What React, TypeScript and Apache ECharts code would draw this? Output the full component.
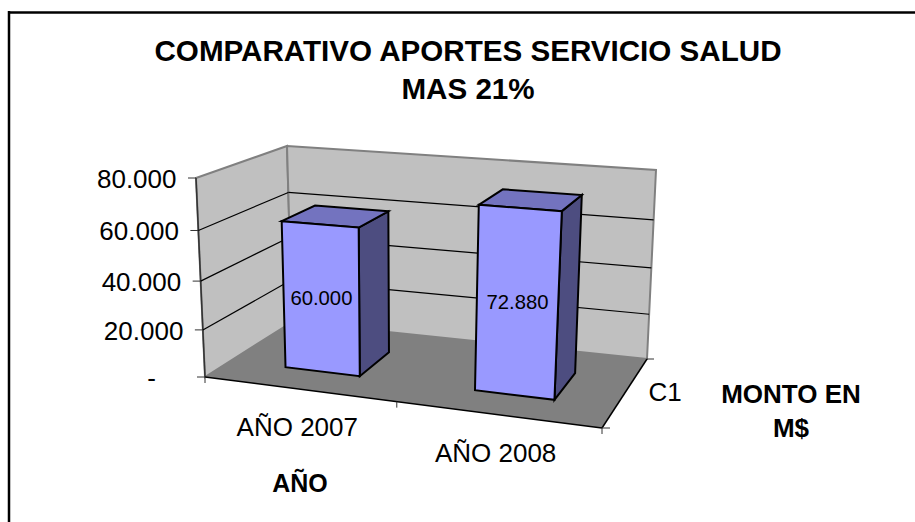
import React, { useEffect, useRef } from "react";
import * as echarts from "echarts";

const categories = ["AÑO 2007", "AÑO 2008"];
const values = [60000, 72880];
const valueLabels = ["60.000", "72.880"];
const yTicks = [0, 20000, 40000, 60000, 80000];
const yTickLabels = ["-", "20.000", "40.000", "60.000", "80.000"];
const seriesLabel = "C1";
const titleLines = ["COMPARATIVO APORTES SERVICIO SALUD", "MAS 21%"];
const xName = "AÑO";
const yName = "MONTO EN\nM$";

const FONT = '"Liberation Sans", Arial, sans-serif';
const G = { left: 100, top: 100, width: 400, height: 200 };
type P = [number, number];
const FLB: P = [205, 377], FRB: P = [602, 428], BLB: P = [292, 322], BRB: P = [647, 359];
const FLT: P = [196, 178], FRT: P = [614, 209], BLT: P = [287, 146], BRT: P = [656, 170];
const lerp = (a: P, b: P, t: number): P => [a[0] + (b[0] - a[0]) * t, a[1] + (b[1] - a[1]) * t];
const warp = (t: number, k: number) => t / (t + k * (1 - t));
const KU = 1.07;
const KV = 1.075;
// u, v, w are already in box units; perspective warp is applied to u and v
function project(u: number, v: number, w: number, kv = KV): P {
  const uu = warp(u, KU);
  const vv = warp(v, kv);
  const bottom = lerp(lerp(FLB, FRB, uu), lerp(BLB, BRB, uu), w);
  const top = lerp(lerp(FLT, FRT, uu), lerp(BLT, BRT, uu), w);
  return lerp(bottom, top, vv);
}
const poly = (points: P[], fill: string, stroke: string, lineWidth: number) => ({
  type: "polygon",
  shape: { points },
  style: { fill, stroke, lineWidth, lineJoin: "miter" },
});
const seg = (a: P, b: P, stroke: string, lineWidth = 1) => ({
  type: "line",
  shape: { x1: a[0], y1: a[1], x2: b[0], y2: b[1] },
  style: { stroke, lineWidth },
});
const txt = (p: P, text: string, size: number, align = "center") => ({
  type: "text",
  x: p[0],
  y: p[1],
  style: { text, font: `${size}px ${FONT}`, fill: "#000", align, verticalAlign: "middle" },
});
const uOf = (x: number) => (x - G.left) / G.width;
const vOf = (y: number) => (G.top + G.height - y) / G.height;

export default function App() {
  const ref = useRef<HTMLDivElement>(null);
  useEffect(() => {
    document.body.style.margin = "0";
    const chart = echarts.init(ref.current!, null, { renderer: "svg" });
    chart.setOption({
      animation: false,
      backgroundColor: "#fff",
      grid: { ...G },
      xAxis: { type: "category", data: categories, show: false },
      yAxis: { type: "value", min: 0, max: 80000, interval: 20000, show: false },
      graphic: [
        { type: "line", shape: { x1: 8, y1: 12.5, x2: 915, y2: 12.5 }, style: { stroke: "#000", lineWidth: 2.5 } },
        { type: "line", shape: { x1: 9, y1: 11, x2: 9, y2: 522 }, style: { stroke: "#000", lineWidth: 2.5 } },
        ...titleLines.map((t, i) => ({
          type: "text", x: 468, y: 50 + i * 38.5,
          style: { text: t, font: `bold 29.6px ${FONT}`, fill: "#000", align: "center", verticalAlign: "middle" },
        })),
        { type: "text", x: 300, y: 483, style: { text: xName, font: `bold 25px ${FONT}`, fill: "#000", align: "center", verticalAlign: "middle" } },
        { type: "text", x: 791, y: 411, style: { text: yName, font: `bold 26px ${FONT}`, lineHeight: 34, fill: "#000", align: "center", verticalAlign: "middle" } },
      ],
      series: [
        {
          type: "custom",
          name: "walls",
          silent: true,
          data: [0],
          renderItem: () => ({
            type: "group",
            children: [
              poly([FLT, BLT, BLB, FLB], "#C0C0C0", "#808080", 2),
              poly([BLT, BRT, BRB, BLB], "#C0C0C0", "#808080", 2),
              seg(FLT, FLB, "#333", 1.5),
            ],
          }),
        },
        {
          type: "custom",
          name: "value axis",
          silent: true,
          data: yTicks,
          encode: { y: 0 },
          renderItem: (_: any, api: any) => {
            const val = api.value(0);
            const v = vOf(api.coord([0, val])[1]);
            const a = project(0, v, 0);
            const b = project(0, v, 1);
            const c = project(1, v, 1);
            const label = yTickLabels[yTicks.indexOf(val)];
            const children: any[] = [seg([a[0] - 8, a[1]], a, "#333", 1)];
            if (val > 0 && val < 80000) children.push(seg(a, b, "#000", 1.2), seg(b, c, "#000", 1.2));
            children.push(txt([a[0] - (val === 0 ? 49 : 19.5), a[1] + 1], label, 26, "right"));
            return { type: "group", children };
          },
        },
        {
          type: "custom",
          name: "floor",
          silent: true,
          data: [0],
          renderItem: () => ({
            type: "group",
            children: [
              poly([FLB, FRB, BRB, BLB], "#808080", "none", 0),
              seg(FLB, FRB, "#000", 1.5),
              seg(FRB, BRB, "#000", 1.5),
              seg(FRB, [FRB[0] + 8, FRB[1]], "#333", 1),
              seg(BRB, [BRB[0] + 7, BRB[1]], "#333", 1),
              seg(FRB, [FRB[0], FRB[1] + 6], "#333", 1),
              seg(FLB, [FLB[0], FLB[1] + 6], "#333", 1),
              txt([665, 392], seriesLabel, 26),
            ],
          }),
        },
        {
          type: "custom",
          name: "category axis",
          silent: true,
          data: categories.map((_, i) => i),
          encode: { x: 0 },
          renderItem: (_: any, api: any) => {
            const i = api.value(0);
            const u = uOf(api.coord([i, 0])[0]);
            const band = api.size([1, 0])[0] / G.width;
            const e = project(u, 0, 0);
            const children: any[] = [txt([e[0] - 2, e[1] + 38], categories[i], 26)];
            if (i === 0) {
              const t = project(u + band / 2, 0, 0);
              children.push(seg(t, [t[0], t[1] + 6], "#333", 1));
            }
            return { type: "group", children };
          },
        },
        {
          type: "custom",
          name: "MONTO",
          silent: true,
          data: values.map((v, i) => [i, v]),
          encode: { x: 0, y: 1 },
          renderItem: (_: any, api: any) => {
            const i = api.value(0);
            const pt = api.coord([i, api.value(1)]);
            const band = api.size([1, 0])[0] / G.width;
            const u0 = uOf(pt[0]) - band * 0.2;
            const u1 = uOf(pt[0]) + band * 0.2;
            const v = vOf(pt[1]);
            const p = (u: number, vv: number, w: number) => project(u, vv, w, 1);
            const w0 = 0.3, w1 = 0.7;
            const fTL = p(u0, v, w0), fTR = p(u1, v, w0), fBR = p(u1, 0, w0), fBL = p(u0, 0, w0);
            const bTL = p(u0, v, w1), bTR = p(u1, v, w1), bBR = p(u1, 0, w1);
            const c = lerp(lerp(fTL, fBR, 0.5), lerp(fTR, fBL, 0.5), 0.5);
            return {
              type: "group",
              children: [
                poly([fTR, bTR, bBR, fBR], "#4D4D80", "#000", 2),
                poly([fTL, bTL, bTR, fTR], "#7373BF", "#000", 2),
                poly([fTL, fTR, fBR, fBL], "#9999FF", "#000", 2),
                txt([c[0], c[1]], valueLabels[i], 20.3),
              ],
            };
          },
        },
      ],
    });
    return () => chart.dispose();
  }, []);
  return <div ref={ref} style={{ width: 915, height: 522, position: "fixed", left: 0, top: 0 }} />;
}
